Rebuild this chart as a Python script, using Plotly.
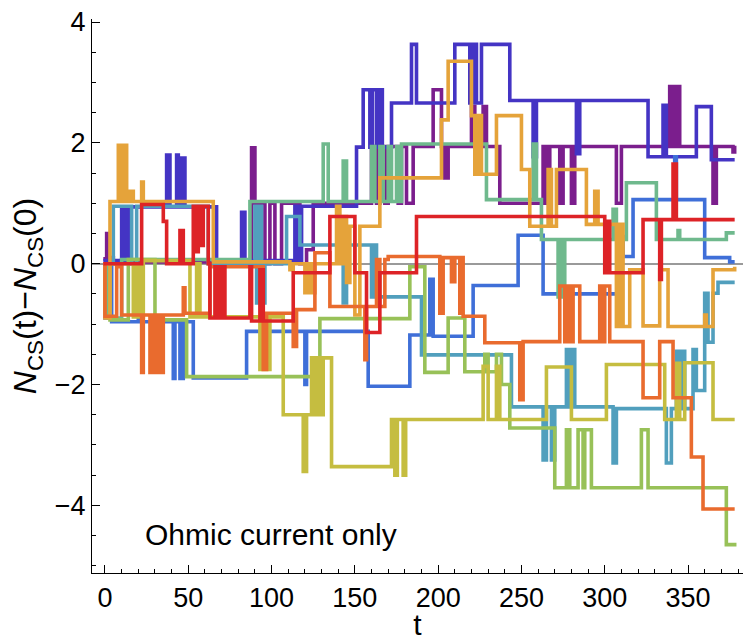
import plotly.graph_objects as go

# ---------------- data (step changes: time -> new value) ----------------
T_PURPLE = [-1, 1, 2, 5, 88, 90, 96, 99, 102, 106, 117, 121, 125, 160, 163, 165, 168, 170, 176, 178, 181,
            185, 197, 202, 204, 206, 220, 222, 227, 229, 237, 263, 265, 267, 273, 275, 280, 282, 307, 310,
            339, 341, 343, 345, 365, 367, 377, 378]
V_PURPLE = [0.08, 0.5, 0.1, 0.03, 1.92, 1.0, 0.0, 1.0, 0.0, 1.0, 0.0, 0.23, 1.0, 1.94, 1.0, 1.94, 1.0, 1.94, 1.0, 1.94, 1.0,
            1.94, 2.88, 1.94, 1.42, 1.94, 2.6, 1.94, 2.6, 1.94, 1.0, 1.94, 1.0, 1.94, 1.0, 1.94, 1.0, 1.94, 1.0, 1.94,
            2.93, 1.94, 2.93, 1.94, 1.0, 1.94, 1.85, 1.95]

T_INDIGO = [-1, 10, 12, 14, 37, 39, 43, 44, 46, 48, 67, 82, 84, 114, 116, 118, 151, 155, 159, 160.5, 163, 165, 166.5,
            172, 184, 187, 210, 219, 221, 223, 226, 243, 257, 259, 283, 285, 326, 335, 337, 355, 364, 378]
V_INDIGO = [0.05, 0.94, 0.05, 0.94, 1.8, 0.94, 1.8, 0.94, 1.75, 0.94, 0.02, 0.85, 0.05, 0.95, 0.05, 0.95, 1.93, 2.88, 1.93, 2.88, 1.93, 2.88, 1.93,
            2.66, 3.63, 2.66, 3.63, 2.66, 3.63, 2.66, 3.63, 2.7, 1.77, 2.7, 1.82, 2.7, 1.77, 2.62, 1.77, 2.6, 1.72, 1.72]

T_BLUE = [-1, 0, 2, 4, 20, 22, 41, 42, 45, 47, 53, 85, 120, 121, 158, 183, 195, 197, 221, 248, 263, 308, 311,
          317, 342, 343, 360, 375, 378]
V_BLUE = [0.0, -0.9, 0.0, -0.96, 0.0, -0.96, -1.9, -0.96, -1.9, -0.96, -1.89, -1.12, -2.0, -1.12, -2.03, -1.18, -0.26, -1.2, -0.36, 0.47, -0.5, 0.45, 0.12,
          1.06, 1.77, 1.06, 0.1, 0.03, 0.03]

T_TEAL = [-1, 5, 16, 19, 62, 90, 91, 93, 94, 96, 109, 117, 143, 145, 160, 162, 163, 190, 244, 263, 265, 268, 270,
          277, 279, 281, 282, 305, 307, 337, 340, 343, 345, 347, 348, 353, 355, 360, 362, 365, 368, 378]
V_TEAL = [0.0, 0.95, 0.0, 0.95, 0.0, 0.95, -0.65, 0.95, -0.65, 0.0, 0.78, 0.31, -0.65, 0.31, -0.55, 0.31, -0.55, -1.51, -2.37, -3.25, -2.37, -3.25, -2.37,
          -1.42, -2.37, -1.42, -2.37, -3.3, -2.4, -3.3, -2.4, -1.45, -2.4, -1.45, -2.4, -1.42, -2.1, -0.49, -1.3, -0.49, -0.31, -0.31]

T_SEAGREEN = [-1, 2, 10, 87, 131, 134, 143, 145, 160, 162, 165, 167, 170, 172, 175, 177, 178, 229, 257, 259, 262,
              272, 273, 274, 276, 305, 307, 313, 331, 344, 345, 373, 378]
V_SEAGREEN = [0.0, -0.9, 0.07, 1.03, 1.98, 1.03, 1.7, 1.03, 1.94, 1.03, 1.94, 1.03, 1.94, 1.03, 1.94, 1.03, 1.98, 1.06, 1.98, 1.06, 0.4,
              -0.55, 0.4, -0.55, 0.4, 0.9, 0.4, 1.34, 0.4, 0.55, 0.4, 0.51, 0.51]

T_LIGHTGREEN = [-1, 3, 14, 30, 49, 129, 183, 192, 206, 216, 228, 230, 235, 238, 243, 270, 277, 279, 284, 287,
                288, 292, 322, 326, 373, 378]
V_LIGHTGREEN = [0.0, -0.93, 0.07, -0.93, -1.87, -0.91, -0.05, -1.8, -0.9, -1.79, -1.5, -1.79, -1.5, -2.0, -2.72, -3.71, -2.75, -3.71, -2.75, -3.71,
                -2.75, -3.71, -2.75, -3.71, -4.65, -4.62]

T_OLIVE = [-1, 17, 19, 21, 23, 51, 55, 57, 93, 95, 97, 99, 107, 119, 121, 124, 126, 128, 130, 131, 136, 172, 174,
           175.5, 179, 180.5, 227, 230, 235, 237, 265, 280, 301, 336, 343, 345, 348, 365, 378]
V_OLIVE = [0.0, -0.88, 0.0, -0.88, 0.05, -0.88, 0.0, -0.88, -1.75, -0.88, -1.75, -0.88, -2.5, -3.44, -2.5, -1.56, -2.5, -1.56, -2.5, -1.56, -3.36, -2.58, -3.5,
           -2.58, -3.5, -2.58, -1.7, -2.58, -1.7, -2.58, -1.71, -2.58, -1.67, -2.58, -1.65, -2.58, -1.64, -2.58, -2.58]

T_GOLD = [-1, 0, 3, 8, 10, 11, 13, 15, 17, 22, 23, 65, 111, 113, 120, 122, 124, 126, 139, 141, 143, 145, 147, 150,
          153, 165, 202, 206, 220, 222, 224, 226, 235, 250, 255, 266, 268, 271, 289, 294, 296, 307, 309, 311,
          315, 323, 333, 338, 360, 361, 365, 378]
V_GOLD = [0.0, -0.9, 1.03, 1.96, 1.03, 1.96, 1.03, 1.2, 1.03, 1.35, 1.03, 0.03, -0.1, 0.0, -0.48, 0.0, -0.48, 0.0, 0.95, 0.0, 0.78, -0.31, 0.62, -0.85,
          0.62, 1.42, 2.38, 3.35, 2.45, 1.48, 2.45, 1.48, 2.45, 1.56, 0.62, 1.56, 0.62, 1.56, 0.65, 1.2, 0.65, -1.04, 0.65, -1.04,
          -0.1, -1.03, -0.1, -1.04, -0.85, -1.04, -0.1, -0.05]

T_ORANGE = [-1, 0, 7, 10, 22, 23, 27, 28.5, 30.5, 32, 33.5, 35, 47, 48, 63, 95, 97, 113, 115, 126, 135, 156, 157, 163,
            165, 168, 170, 201, 203, 208, 210, 213, 214, 215, 228, 249, 251, 273, 276, 277, 279, 281, 285, 297,
            299, 300, 303, 323, 333, 341, 352, 359, 378]
V_ORANGE = [0.0, -0.87, -0.05, -0.85, -1.8, -0.85, -1.8, -0.85, -1.8, -0.85, -1.8, -0.85, -0.4, -0.82, -0.05, -1.75, -0.82, -1.37, -0.76, 0.18, -0.71, -1.59, -0.71, 0.07,
            -0.71, 0.07, 0.12, -0.82, 0.1, -0.3, 0.1, -0.82, 0.1, -0.87, -1.31, -2.25, -1.29, -0.37, -1.29, -0.37, -1.29, -0.37, -1.29, -0.37,
            -1.29, -0.37, -1.29, -2.22, -1.29, -2.22, -3.2, -4.06, -4.06]

T_RED = [-1, 22, 35, 37, 45, 47, 53, 55, 56, 58, 59, 62, 63, 66, 68, 70, 72, 87, 88, 93, 95, 113, 135, 150, 157,
         165, 187, 300, 302, 303, 323, 333, 334, 341, 343, 378]
V_RED = [0.0, 0.98, 0.7, 0.0, 0.55, 0.0, 0.95, 0.2, 0.95, 0.3, 0.95, 0.0, -0.9, -0.05, -0.9, -0.05, -0.9, -0.05, -0.95, -0.1, -0.95, -0.15, 0.78, -0.15, -1.14,
         -0.15, 0.78, -0.15, 0.7, -0.15, 0.73, -0.26, 0.73, 1.65, 0.73, 0.73]

SERIES = [
    (T_PURPLE, V_PURPLE, "#7B1E8D"),
    (T_INDIGO, V_INDIGO, "#4434C4"),
    (T_BLUE, V_BLUE, "#3F6FD8"),
    (T_TEAL, V_TEAL, "#519FBD"),
    (T_SEAGREEN, V_SEAGREEN, "#6FB98D"),
    (T_LIGHTGREEN, V_LIGHTGREEN, "#98C158"),
    (T_OLIVE, V_OLIVE, "#C5BD40"),
    (T_GOLD, V_GOLD, "#E5A33A"),
    (T_ORANGE, V_ORANGE, "#E96B2E"),
    (T_RED, V_RED, "#DD2327"),
]

X_TICKS = [0, 50, 100, 150, 200, 250, 300, 350]
Y_TICKS = [-4, -2, 0, 2, 4]

FONT = "Liberation Sans, Arial, sans-serif"

fig = go.Figure()
for t, v, c in SERIES:
    fig.add_trace(go.Scatter(x=t, y=v, mode="lines", line=dict(color=c, width=3.6, shape="hv"),
                             showlegend=False, hoverinfo="skip"))

fig.add_annotation(x=22.8, y=-4.49, xref="x", yref="y", text="Ohmic current only", showarrow=False,
                   xanchor="left", yanchor="middle", font=dict(family=FONT, size=30, color="black"))

fig.update_layout(
    width=743, height=641,
    margin=dict(l=92, r=0, t=19, b=68),
    paper_bgcolor="white", plot_bgcolor="white",
    font=dict(family=FONT, color="black"),
)
fig.update_xaxes(
    range=[-7.8, 383], tickvals=X_TICKS, ticks="inside", ticklen=8, tickwidth=1, tickcolor="black",
    showline=True, linecolor="black", linewidth=1.2, showgrid=False, zeroline=False,
    tickfont=dict(size=27, family=FONT),
    minor=dict(dtick=10, tick0=0, ticks="inside", ticklen=4, tickcolor="black", showgrid=False),
    title=dict(text="t", font=dict(size=30, family=FONT), standoff=8),
)
fig.update_yaxes(
    range=[-5.12, 4.05], tickvals=Y_TICKS, ticks="inside", ticklen=8, tickwidth=1, tickcolor="black",
    showline=True, linecolor="black", linewidth=1.2, showgrid=False,
    zeroline=True, zerolinecolor="#9a9a9a", zerolinewidth=1.5,
    tickfont=dict(size=27, family=FONT),
    minor=dict(dtick=0.5, tick0=0, ticks="inside", ticklen=4, tickcolor="black", showgrid=False),
    title=dict(text="<i>N</i><sub>CS</sub>(t)\u2212<i>N</i><sub>CS</sub>(0)", font=dict(size=32, family=FONT), standoff=8),
)

fig.write_html("out.html")
